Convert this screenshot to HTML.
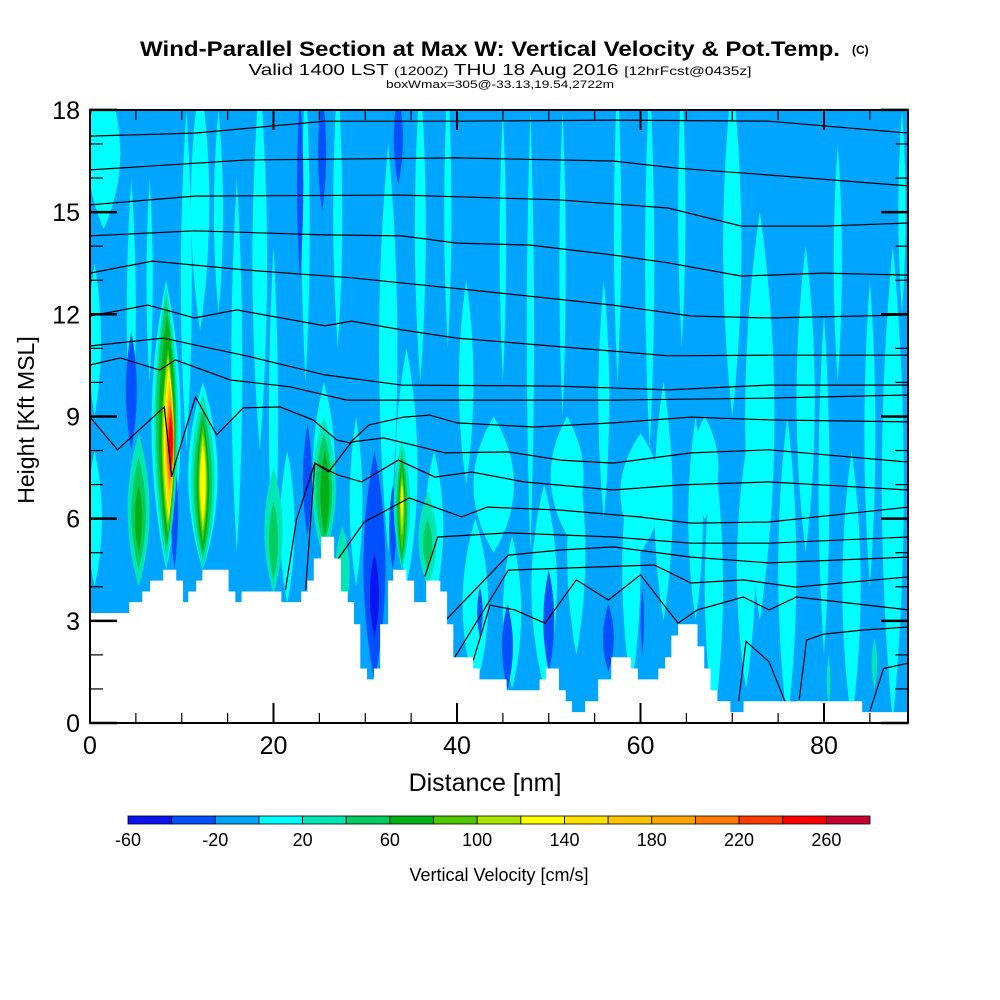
<!DOCTYPE html>
<html><head><meta charset="utf-8">
<style>
html,body{margin:0;padding:0;background:#fff;}
svg{display:block;font-family:"Liberation Sans",sans-serif;}
</style></head>
<body>
<svg id="chart" width="1000" height="1000" viewBox="0 0 1000 1000" xmlns="http://www.w3.org/2000/svg">
  <defs><clipPath id="plotclip"><rect x="90" y="110" width="818" height="613"/></clipPath></defs>
  <text x="490" y="56" text-anchor="middle" font-size="21" font-weight="bold" textLength="700" lengthAdjust="spacingAndGlyphs">Wind-Parallel Section at Max W: Vertical Velocity &amp; Pot.Temp.</text>
  <text x="852" y="54" font-size="12" font-weight="bold">(C)</text>
  <text x="500" y="75" text-anchor="middle" font-size="16" textLength="503" lengthAdjust="spacingAndGlyphs">Valid 1400 LST <tspan font-size="12">(1200Z)</tspan> THU 18 Aug 2016 <tspan font-size="12">[12hrFcst@0435z]</tspan></text>
  <text x="500" y="88" text-anchor="middle" font-size="11" textLength="228" lengthAdjust="spacingAndGlyphs">boxWmax=305@-33.13,19.54,2722m</text>
  <rect x="90" y="110" width="818" height="613" fill="#00a5ff"/>
  <g id="field" clip-path="url(#plotclip)"></g>
  <g id="contours" clip-path="url(#plotclip)"></g>
  <g id="terrain"></g>
  <g id="axes"></g>
  <rect x="90" y="110" width="818" height="613" fill="none" stroke="#000" stroke-width="2"/>
  <text x="485" y="791" text-anchor="middle" font-size="25">Distance [nm]</text>
  <text transform="translate(34,420) rotate(-90)" text-anchor="middle" font-size="23">Height [Kft MSL]</text>
  <g id="colorbar"></g>
  <text x="499" y="881" text-anchor="middle" font-size="18">Vertical Velocity [cm/s]</text>
</svg>
<script>
// ---- data ----
const levelColors = ["#0a14f0","#0050ff","#00a5ff","#00ffff","#00e6b4","#00cc60","#00b014","#50c800","#aae600","#ffff00","#ffe100","#ffc300","#ffa500","#ff7800","#ff3c00","#ff0000","#c80032"];
const cbTickValues = [-60,-20,20,60,100,140,180,220,260];
const xTicks = [0,20,40,60,80];
const yTicks = [0,3,6,9,12,15,18];
// terrain: segment start (nm) and height (kft)
const terrainX = [0,4.27,5.70,6.55,7.98,9.40,10.14,10.71,11.57,12.25,15.1,15.84,16.52,20.85,23.02,23.7,24.39,25.19,26.61,27.35,28.09,28.77,29.46,30.2,30.94,31.62,32.48,33.05,34.47,35.33,36.64,38.18,38.92,39.6,41.77,42.45,45.41,49.0,49.69,51.11,51.85,52.54,53.96,55.38,56.81,58.97,59.72,61.94,62.68,63.36,64.1,66.21,66.95,67.64,68.38,69.8,71.23,84.16,89.2];
const terrainH = [3.23,3.55,3.86,4.18,4.5,4.18,3.55,3.86,4.18,4.5,3.86,3.55,3.86,3.55,3.86,4.18,4.83,5.47,4.83,3.86,3.55,2.9,1.6,1.28,1.6,2.9,4.18,4.5,4.18,3.55,4.18,3.86,2.9,1.93,1.6,1.28,0.96,1.28,1.6,0.96,0.64,0.32,0.64,1.28,1.93,1.6,1.28,1.6,1.93,2.57,2.9,2.25,1.6,0.96,0.64,0.32,0.64,0.32];
// velocity cells (spindles): center nm, half-width nm, bottom kft, top kft, level
const cellX = [1.5,0.5,0.5,4.5,6.5,8.3,10.5,12,12.3,14,16,18.5,20,21.5,23.5,25.5,27,29,32.5,34.5,36,37.5,39,41,42,45,46,48,49.5,51.5,53,56,57.5,59,61,62.5,64.5,66,68,70,71.5,73,76,78,80,81.5,83,85,87.5,88.5,44,52,60,67,
 4.5,9.2,22.9,25.3,33.6,31,23.7,33,42.5,45.5,50,56.5,60.2,31,
 8.3,8.3,8.4,8.5,8.5,8.6,8.6,8.7,8.7,8.7,8.8,8.8,
 12.3,12.3,12.3,12.3,12.3,12.3,5.3,5.3,5.3,25.5,25.5,25.6,34,34,34,34,34,34,36.8,36.8,20,20,27.5,85.5,80.5];
const cellW = [1.8,0.7,0.8,0.5,0.35,1.6,0.6,1.0,1.6,0.5,0.6,0.8,0.5,0.8,0.45,1.2,0.5,0.7,1.0,1.2,0.6,1.0,0.4,0.8,1.4,0.35,1.0,0.4,1.4,0.35,1.0,0.6,0.4,1.0,0.5,1.0,0.4,0.8,1.0,1.0,1.0,1.6,1.0,1.0,0.6,0.45,1.0,0.6,1.2,0.4,2.2,1.8,2.2,1.5,
 0.6,0.4,0.35,0.45,0.5,1.2,0.5,0.4,0.3,0.6,0.6,0.6,0.2,0.5,
 1.3,1.1,0.9,0.7,0.6,0.55,0.5,0.45,0.4,0.35,0.3,0.22,
 1.3,1.0,0.7,0.5,0.4,0.3,1.2,0.8,0.4,1.3,0.9,0.5,0.9,0.6,0.4,0.3,0.2,0.15,1,0.5,1,0.5,0.8,0.3,0.2];
const cellLo = [14.5,9,4,8,10,4.5,8,11.5,4.5,12,5,8,4,3.5,10,5,11,4,5,4,10,3.5,11,7,1,10,1,5,1,9,2,6,10,1,8,3,11,3,0,9,1,3,0,5,2,10,0,4,0,12,5,5.5,5,6,
 8,4.5,13,15,15.8,1.2,5.5,4.5,2.5,1,1.5,1.5,2,2.5,
 4.6,5,5.2,5.5,5.8,6,6.2,6.5,6.8,7,7.2,7.5,
 4.5,4.8,5,5.3,5.6,5.9,4,4.5,5,4.8,5.2,5.5,4.5,4.6,4.8,5,5.5,6,4,4.5,3.8,4.2,3,1,0.5];
const cellHi = [19,13.5,8,16,16,13,18,19,10,18,16,19,14,8,19,10,19,9,17,11,19,8,19,13,6,18,5.5,18,7,18,8,13,19,8,19,10,19,9,8,19,8,15,9,14,12,17,8,13,14,18,9,9,8.5,9,
 11.5,8,18.5,18.5,18.5,8,8.8,7,4,3.5,4.5,3.5,4,5,
 12.8,12.5,12,11,10.8,10.5,10.2,10,9.7,9.5,9.3,9,
 9.7,9.3,9,8.8,8.5,8.2,8.5,7.8,7,9,8.5,8,8.3,8,7.8,7.5,7.2,7,6.8,6,7.5,6.5,5.8,2.5,2];
const cellLvl = [3,3,3,3,3,3,3,3,3,3,3,3,3,3,3,3,3,3,3,3,3,3,3,3,3,3,3,3,3,3,3,3,3,3,3,3,3,3,3,3,3,3,3,3,3,3,3,3,3,3,3,3,3,3,
 1,1,1,1,1,1,1,1,1,1,1,1,1,0,
 4,5,6,7,8,9,10,11,12,13,14,15,
 4,5,6,7,8,9,4,5,6,4,5,6,4,5,6,7,8,9,4,5,4,5,4,4,4];
// potential temperature contours (nm, kft)
const thetaX = [
 [0,11.4,20,25.6,34,40,57,74,89.2],
 [0,17,40,57,64,74,89.2],
 [0,11.4,34,51,63,71,80,89.2],
 [0,11.4,25.6,34,40,48,57,63,71,80,89.2],
 [0,6.8,17,28.5,42.7,57,65.5,74,89.2],
 [0,6.3,11.4,16,25.6,28.5,34,40,57,63,74,89.2],
 [0,8,11.4,17,25.6,34,51,63,74,89.2],
 [0,3.3,7.6,9.3,15.3,21.8,28,34,45,57,74,89.2],
 [0,3,8.1,8.9,9.4,11.5,13.8,16.7,20.7,24.3,26.9,28.3,30.4,34.2,37,40,48.4,57,65.5,74,89.2],
 [21.3,22.5,24.5,26,28.5,32,38.7,45.6,51.3,57,65.5,74,89.2],
 [23.5,24.5,27,29.6,33.6,37.6,41.6,47.3,57,64.4,74,89.2],
 [27,29.9,34.8,40.5,43.3,51.3,59.8,65.5,74,89.2],
 [36.5,37.9,45.6,57,65.5,74,89.2],
 [38.7,45.6,51.3,57,65.5,74,89.2],
 [39.7,45.6,61.5,65.5,71.2,76.9,89.2],
 [41.5,43.6,46.3,49.6,53,56.5,60,64.1,66.2,71.2,74,77,89.2],
 [70.7,71.5,74,75.8,76.9],
 [77.3,78.1,80,84.3,89.2],
 [85,86.5,89.2]
];
const thetaK = [
 [17.23,17.32,17.53,17.67,17.67,17.67,17.7,17.67,17.32],
 [16.24,16.53,16.59,16.5,16.29,16.09,15.77],
 [15.21,15.47,15.5,15.36,15.12,14.59,14.59,14.68],
 [14.3,14.45,14.33,14.3,14.09,14.03,13.74,13.51,13.12,13.21,13.15],
 [13.21,13.56,13.3,13.07,12.68,12.27,11.95,11.89,11.98],
 [11.95,12.27,11.89,12.13,11.66,11.8,11.54,11.3,10.92,10.78,10.8,10.8],
 [11.07,11.3,11.1,10.78,10.22,9.92,9.89,9.78,9.92,9.92],
 [10.51,10.72,10.36,10.66,10.07,9.87,9.48,9.48,9.48,9.48,9.54,9.63],
 [8.98,8.02,9.28,7.22,7.72,9.57,8.46,9.25,9.28,8.9,8.31,8.22,8.75,8.98,9.04,8.81,8.69,8.81,8.98,8.9,8.84],
 [3.9,5.96,7.63,7.37,8.25,8.37,7.93,7.96,7.72,7.63,7.93,8.02,7.66],
 [3.9,7.63,7.28,7.08,7.72,7.22,7.37,7.08,6.84,6.99,7.08,6.84],
 [4.8,5.9,6.61,6.05,6.34,6.25,6.05,5.87,5.9,6.34],
 [4.3,5.46,5.58,5.46,5.28,5.28,5.46],
 [3.0,4.93,5.08,5.17,4.87,4.7,4.87],
 [1.9,4.49,4.64,4.11,4.2,3.99,4.29],
 [1.6,3.46,3.32,2.93,4.2,3.61,4.35,2.93,3.32,3.7,3.32,3.7,3.32],
 [0.64,2.4,1.8,0.6,0.64],
 [0.68,2.44,2.61,2.73,2.82],
 [0.35,1.6,1.76]
];
// ---- axis functions ----
const NS = "http://www.w3.org/2000/svg";
const X = nm => 90 + nm * 9.175;
const Y = k => 723 - k * 34.06;
function mk(tag, attrs, parent){ const e=document.createElementNS(NS,tag); for(const k in attrs) e.setAttribute(k,attrs[k]); parent.appendChild(e); return e; }

const field = document.getElementById('field');
for (let i=0;i<cellX.length;i++){
  const x=cellX[i], w=cellW[i], lo=cellLo[i], hi=cellHi[i], mid=(lo+hi)/2;
  const d=`M${X(x)},${Y(lo)} Q${X(x+2*w)},${Y(mid)} ${X(x)},${Y(hi)} Q${X(x-2*w)},${Y(mid)} ${X(x)},${Y(lo)} Z`;
  const p=mk('path',{d:d,fill:levelColors[cellLvl[i]]},field);
  
  
}

const cont = document.getElementById('contours');
for (let j=0;j<thetaX.length;j++){
  const pts=thetaX[j].map((v,i)=>X(v).toFixed(1)+','+Y(thetaK[j][i]).toFixed(1)).join(' ');
  const l=mk('polyline',{points:pts,fill:'none',stroke:'#000','stroke-width':1.2},cont);
  
  
}

const ter = document.getElementById('terrain');
let d=`M${X(0)},${Y(0)}`;
for (let i=0;i<terrainH.length;i++){ d+=` L${X(terrainX[i])},${Y(terrainH[i])} L${X(terrainX[i+1])},${Y(terrainH[i])}`; }
d+=` L${X(89.2)},${Y(0)} Z`;
const tp=mk('path',{d:d,fill:'#fff'},ter);



const ax = document.getElementById('axes');
for (let k=0;k<=18;k++){
  const major = k%3===0, len = major?27:13;
  const t1=mk('line',{x1:90,x2:90+len,y1:Y(k),y2:Y(k),stroke:'#000','stroke-width':major?2.5:1.2},ax);
  
  
  const t2=mk('line',{x1:908-len,x2:908,y1:Y(k),y2:Y(k),stroke:'#000','stroke-width':major?2.5:1.2},ax);
  
  
}
for (let n=0;n<=85;n+=5){
  const major=n%20===0, len=major?20:10;
  const t1=mk('line',{x1:X(n),x2:X(n),y1:723-len,y2:723,stroke:'#000','stroke-width':major?2:1.2},ax);
  
  
  const t2=mk('line',{x1:X(n),x2:X(n),y1:110,y2:110+len,stroke:'#000','stroke-width':major?2:1.2},ax);
  
  
}
yTicks.forEach(v=>{
  const t=mk('text',{x:80,y:Y(v)+9,'text-anchor':'end','font-size':25},ax);
  t.textContent=v;
  
  
});
xTicks.forEach(v=>{
  const t=mk('text',{x:X(v),y:754,'text-anchor':'middle','font-size':25},ax);
  t.textContent=v;
  
  
});

const cb=document.getElementById('colorbar');
const cbX0=128, cbW=742/levelColors.length;
levelColors.forEach((c,i)=>{
  const r=mk('rect',{x:cbX0+i*cbW,y:816,width:cbW,height:8,fill:c,stroke:'#000','stroke-width':0.8},cb);
  
  
});
cbTickValues.forEach(v=>{
  const t=mk('text',{x:cbX0+(v+60)/20*cbW,y:846,'text-anchor':'middle','font-size':18},cb);
  t.textContent=v;
  
  
});
</script>
</body></html>
